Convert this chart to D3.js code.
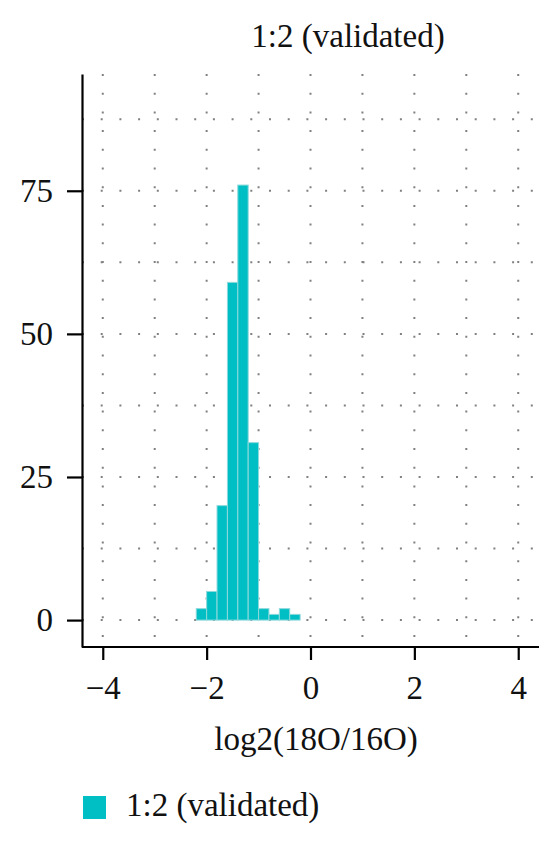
<!DOCTYPE html>
<html>
<head>
<meta charset="utf-8">
<script src="https://cdn.jsdelivr.net/npm/d3@7"></script>
<style>
  body { margin: 0; background: #fff; }
  svg text { font-family: "Liberation Serif", "DejaVu Serif", serif; fill: #111; }
</style>
</head>
<body>
<div id="chart"></div>
<script>
// histogram bins (left edge), width 0.2
var binStarts = [-4.0, -3.8, -3.6, -3.4, -3.2, -3.0, -2.8, -2.6, -2.4, -2.2,
                 -2.0, -1.8, -1.6, -1.4, -1.2, -1.0, -0.8, -0.6, -0.4, -0.2,
                  0.0,  0.2,  0.4,  0.6,  0.8,  1.0,  1.2,  1.4,  1.6,  1.8,
                  2.0,  2.2,  2.4,  2.6,  2.8,  3.0,  3.2,  3.4,  3.6,  3.8];
var binWidth = 0.2;
var counts = [0, 0, 0, 0, 0, 0, 0, 0, 0, 2,
              5, 20, 59, 76, 31, 2, 1, 2, 1, 0,
              0, 0, 0, 0, 0, 0, 0, 0, 0, 0,
              0, 0, 0, 0, 0, 0, 0, 0, 0, 0];
var xTicks = [-4, -2, 0, 2, 4];
var xGrid = [-4, -3, -2, -1, 0, 1, 2, 3, 4];
var yTicks = [0, 25, 50, 75];
var yGrid = [0, 12.5, 25, 37.5, 50, 62.5, 75, 87.5];
var seriesName = "1:2 (validated)";
var title = "1:2 (validated)";
var xLabel = "log2(18O/16O)";

var W = 559, H = 858;
// panel box (note: "top" is reserved on window, so use pTop etc.)
var pLeft = 82, pRight = 539, pTop = 74, pBottom = 647;
var fill = "#00BFC4";
var fs = 33;

var svg = d3.select("#chart").append("svg")
    .attr("width", W)
    .attr("height", H);

var x = d3.scaleLinear().domain([-4.4, 4.4]).range([pLeft, pRight]);
var y = d3.scaleLinear().domain([-4.7, 95.4]).range([pBottom, pTop]);

// dotted grid
svg.append("g").selectAll("line")
    .data(yGrid)
    .enter().append("line")
    .attr("x1", pLeft).attr("x2", pRight)
    .attr("y1", function(d) { return y(d); })
    .attr("y2", function(d) { return y(d); })
    .attr("stroke", "#808080")
    .attr("stroke-width", 2)
    .attr("stroke-dasharray", "2,16.7");

svg.append("g").selectAll("line")
    .data(xGrid)
    .enter().append("line")
    .attr("x1", function(d) { return x(d); })
    .attr("x2", function(d) { return x(d); })
    .attr("y1", pTop).attr("y2", pBottom)
    .attr("stroke", "#808080")
    .attr("stroke-width", 2)
    .attr("stroke-dasharray", "2,16.7");

// bars
svg.append("g").selectAll("rect")
    .data(counts)
    .enter().append("rect")
    .attr("x", function(d, i) { return x(binStarts[i]); })
    .attr("width", function(d, i) { return x(binStarts[i] + binWidth) - x(binStarts[i]); })
    .attr("y", function(d) { return y(d); })
    .attr("height", function(d) { return y(0) - y(d); })
    .attr("fill", fill)
    .attr("stroke", "#8fd9dc")
    .attr("stroke-width", 1);

// axes
var yAxis = svg.append("g")
    .attr("transform", "translate(" + pLeft + ",0)")
    .call(d3.axisLeft(y).tickValues(yTicks).tickSize(15).tickSizeOuter(0).tickPadding(14));
var xAxis = svg.append("g")
    .attr("transform", "translate(0," + pBottom + ")")
    .call(d3.axisBottom(x).tickValues(xTicks).tickSize(13).tickSizeOuter(0));

[yAxis, xAxis].forEach(function(a) {
    a.select(".domain").attr("stroke", "#000").attr("stroke-width", 2.2);
    a.selectAll(".tick line").attr("stroke", "#000").attr("stroke-width", 2.2);
    a.selectAll("text")
        .style("font-family", "'Liberation Serif', serif")
        .attr("font-size", fs)
        .attr("fill", "#111");
});
xAxis.selectAll("text").attr("y", 52).attr("dy", null);
xAxis.select(".domain").attr("d", "M" + pLeft + ",0H" + pRight);

// title
svg.append("text")
    .attr("x", 348).attr("y", 47)
    .attr("text-anchor", "middle")
    .attr("font-size", fs)
    .text(title);

// x label
svg.append("text")
    .attr("x", 316).attr("y", 750)
    .attr("text-anchor", "middle")
    .attr("font-size", fs)
    .text(xLabel);

// legend
svg.append("rect")
    .attr("x", 83).attr("y", 796)
    .attr("width", 23).attr("height", 23)
    .attr("fill", fill);
svg.append("text")
    .attr("x", 126).attr("y", 816)
    .attr("font-size", fs)
    .text(seriesName);
</script>
</body>
</html>
